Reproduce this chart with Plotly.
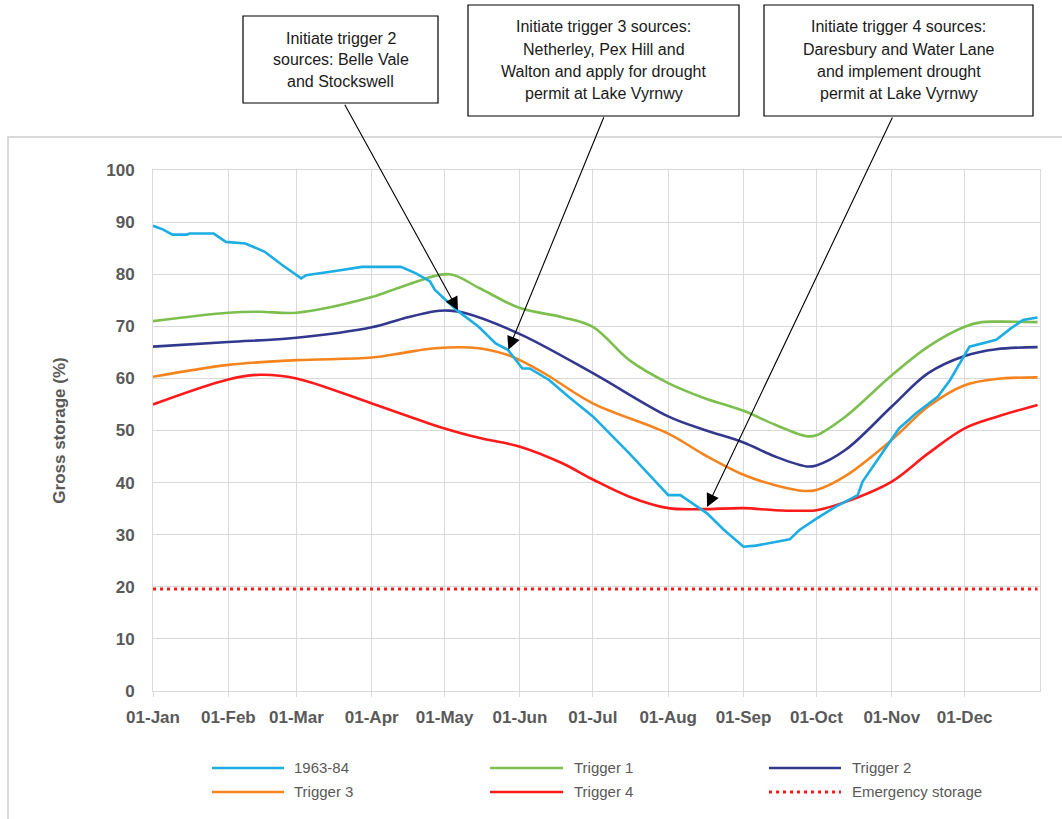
import plotly.graph_objects as go

YEAR = "2021"

# ---- data -------------------------------------------------------------
hist_days = ["01-01", "01-05", "01-09", "01-15", "01-16", "01-26", "01-31", "02-08",
             "02-16", "02-23", "03-03", "03-05", "03-17", "03-28", "04-13", "04-19",
             "04-25", "04-27", "05-06", "05-15", "05-22", "05-27", "06-02", "06-05",
             "06-13", "06-21", "07-01", "07-16", "07-30", "08-01", "08-06", "08-11",
             "08-17", "08-24", "09-01", "09-06", "09-20", "09-24", "10-01", "10-09",
             "10-18", "10-20", "10-27", "11-04", "11-11", "11-20", "11-25", "12-03",
             "12-14", "12-20", "12-25", "12-31"]
hist_values = [89.3, 88.6, 87.6, 87.6, 87.8, 87.8, 86.2, 85.9,
               84.3, 81.8, 79.2, 79.8, 80.6, 81.4, 81.4, 80.2,
               78.6, 77.0, 73.1, 69.9, 66.7, 65.5, 61.9, 61.9,
               59.7, 56.5, 52.7, 45.6, 38.6, 37.6, 37.6, 36.0,
               34.1, 30.9, 27.7, 27.9, 29.1, 30.9, 33.1, 35.4,
               37.6, 40.2, 45.0, 50.4, 53.3, 56.5, 59.7, 66.1,
               67.4, 69.6, 71.2, 71.7]

t1_days = ["01-01", "02-01", "02-14", "03-01", "04-01", "04-14", "05-03", "05-15",
           "06-01", "06-18", "07-01", "07-16", "08-01", "08-16", "09-01", "09-14",
           "09-27", "10-01", "10-13", "11-01", "11-16", "12-01", "12-08", "12-15", "12-31"]
t1_values = [71.0, 72.6, 72.8, 72.6, 75.6, 77.7, 80.0, 77.4,
             73.5, 71.8, 69.9, 63.5, 59.1, 56.2, 53.8, 51.1,
             48.9, 49.1, 52.7, 60.6, 66.1, 69.9, 70.8, 70.9, 70.8]

t2_days = ["01-01", "02-01", "03-01", "04-01", "04-14", "04-27", "05-03", "05-09",
           "06-01", "07-01", "08-01", "08-16", "09-01", "09-14", "09-27", "10-01",
           "10-13", "11-01", "11-16", "12-01", "12-14", "12-31"]
t2_values = [66.1, 67.0, 67.8, 69.8, 71.5, 72.9, 73.0, 72.6,
             68.5, 61.0, 52.7, 50.1, 47.7, 45.0, 43.1, 43.3,
             46.3, 54.6, 61.0, 64.3, 65.6, 66.0]

t3_days = ["01-01", "02-01", "03-01", "04-01", "04-14", "04-27", "05-15", "05-27",
           "06-01", "06-12", "07-01", "08-01", "08-16", "09-01", "09-14", "09-26",
           "10-01", "10-13", "11-01", "11-16", "12-01", "12-14", "12-31"]
t3_values = [60.3, 62.6, 63.5, 64.0, 64.9, 65.8, 65.8, 64.5,
             63.5, 60.7, 55.2, 49.4, 45.3, 41.5, 39.5, 38.4,
             38.6, 41.3, 48.2, 54.6, 58.7, 59.9, 60.2]

t4_days = ["01-01", "02-01", "02-14", "03-01", "04-01", "05-01", "05-16", "06-01",
           "06-18", "07-01", "07-16", "08-01", "08-15", "09-01", "09-14", "09-26",
           "10-01", "10-13", "11-01", "11-16", "12-01", "12-14", "12-31"]
t4_values = [55.0, 59.8, 60.7, 60.0, 55.2, 50.4, 48.5, 46.9,
             43.8, 40.6, 37.3, 35.1, 34.9, 35.1, 34.7, 34.6,
             34.7, 36.3, 40.2, 45.6, 50.4, 52.6, 54.9]

emergency_days = ["01-01", "12-31"]
emergency_values = [19.6, 19.6]

month_ticks = ["01-01", "02-01", "03-01", "04-01", "05-01", "06-01",
               "07-01", "08-01", "09-01", "10-01", "11-01", "12-01"]
tick_labels = ["01-Jan", "01-Feb", "01-Mar", "01-Apr", "01-May", "01-Jun",
               "01-Jul", "01-Aug", "01-Sep", "01-Oct", "01-Nov", "01-Dec"]

series_names = ["1963-84", "Trigger 1", "Trigger 2", "Trigger 3", "Trigger 4", "Emergency storage"]

callouts = [
    ["Initiate trigger 2", "sources: Belle Vale", "and Stockswell"],
    ["Initiate trigger 3 sources:", "Netherley, Pex Hill and",
     "Walton and apply for drought", "permit at Lake Vyrnwy"],
    ["Initiate trigger 4 sources:", "Daresbury and Water Lane",
     "and implement drought", "permit at Lake Vyrnwy"],
]
callout_targets = [("05-06 12:00", 73.1), ("05-27 06:00", 65.5), ("08-17 00:00", 35.3)]


def dates(days):
    return [f"{YEAR}-{d}" for d in days]


# ---- styling ----------------------------------------------------------
W, H = 1062, 819
L, R, T, B = 153, 22, 170, 128
PW, PH = W - L - R, H - T - B

BLUE = "#1CADE4"
GREEN = "#7CBF4F"
NAVY = "#33388F"
ORANGE = "#F5841F"
RED = "#FF1A1A"
GRID = "#D9D9D9"
TXT = "#595959"
FONT = "Liberation Sans, Arial, sans-serif"
EMERG_DASH = "3px,4px"


def fx(px):
    return (px - L) / PW


def fy(py):
    return (H - B - py) / PH


fig = go.Figure()

styles = [
    (hist_days, hist_values, BLUE, "linear", None),
    (t1_days, t1_values, GREEN, "spline", None),
    (t2_days, t2_values, NAVY, "spline", None),
    (t3_days, t3_values, ORANGE, "spline", None),
    (t4_days, t4_values, RED, "spline", None),
    (emergency_days, emergency_values, RED, "linear", EMERG_DASH),
]
# draw order: triggers underneath, history on top, emergency line
order = [5, 1, 2, 3, 4, 0]
for i in order:
    days, vals, col, shape, dash = styles[i]
    line = dict(color=col, width=3 if dash else 2.6, shape=shape)
    if shape == "spline":
        line["smoothing"] = 1.0
    if dash:
        line["dash"] = dash
    fig.add_trace(go.Scatter(x=dates(days), y=vals, mode="lines", name=series_names[i],
                             line=line, showlegend=False, hoverinfo="x+y+name"))

shapes = []
annotations = []

# outer chart frame (only top and left edges fall inside the page)
shapes.append(dict(type="rect", xref="paper", yref="paper",
                   x0=fx(8), x1=fx(1075), y0=fy(830), y1=fy(137),
                   line=dict(color=GRID, width=2), layer="below"))

# call-out boxes with arrows
box_px = [(243, 438, 16, 103), (468, 739, 5, 116), (764, 1033, 5, 116)]
line_ys = [[38, 60, 82], [27, 49, 71, 94], [27, 49, 71, 94]]
tails = [(344, 103), (604, 116), (893, 116)]
tip_px = [(458, 310), (508, 350), (707, 507)]
for k, lines in enumerate(callouts):
    x0, x1, y0, y1 = box_px[k]
    shapes.append(dict(type="rect", xref="paper", yref="paper",
                       x0=fx(x0), x1=fx(x1), y0=fy(y1), y1=fy(y0),
                       line=dict(color="#000000", width=1.2), fillcolor="white"))
    cx = (x0 + x1) / 2
    for text, ly in zip(lines, line_ys[k]):
        annotations.append(dict(xref="paper", yref="paper", x=fx(cx), y=fy(ly),
                                text=text, showarrow=False, xanchor="center",
                                yanchor="middle",
                                font=dict(family=FONT, size=16, color="#1a1a1a")))
    tday, tval = callout_targets[k]
    tx, ty = tails[k]
    px_, py_ = tip_px[k]
    annotations.append(dict(x=f"{YEAR}-{tday}", y=tval, xref="x", yref="y",
                            text="", showarrow=True, arrowhead=2, arrowsize=2.4,
                            arrowwidth=1.1, arrowcolor="#000000", standoff=0,
                            ax=tx - px_, ay=ty - py_))

# legend: two rows of three entries
leg_rows = [768, 792]
leg_cols = [(212, 284, 292), (490, 563, 572), (769, 841, 850)]
leg_styles = [(BLUE, None), (GREEN, None), (NAVY, None),
              (ORANGE, None), (RED, None), (RED, EMERG_DASH)]
for idx, name in enumerate(series_names):
    r, c = divmod(idx, 3)
    lx0, lx1, tx = leg_cols[c]
    ly = leg_rows[r]
    col, dash = leg_styles[idx]
    ln = dict(color=col, width=3 if dash else 2.6)
    if dash:
        ln["dash"] = dash
    shapes.append(dict(type="line", xref="paper", yref="paper",
                       x0=fx(lx0), x1=fx(lx1), y0=fy(ly), y1=fy(ly), line=ln))
    annotations.append(dict(xref="paper", yref="paper", x=fx(tx), y=fy(ly - 1),
                            text=name, showarrow=False, xanchor="left",
                            yanchor="middle",
                            font=dict(family=FONT, size=15, color=TXT)))

fig.update_layout(
    width=W, height=H, autosize=False,
    margin=dict(l=L, r=R, t=T, b=B),
    paper_bgcolor="white", plot_bgcolor="white",
    showlegend=False,
    font=dict(family=FONT, color=TXT),
    shapes=shapes, annotations=annotations,
)

fig.update_xaxes(
    type="date", range=[f"{YEAR}-01-01", f"{YEAR}-12-31 23:59"],
    tickvals=dates(month_ticks), ticktext=tick_labels,
    showgrid=True, gridcolor=GRID, gridwidth=1,
    showline=True, linecolor=GRID, linewidth=1, mirror=True,
    ticks="outside", ticklen=5, tickcolor=GRID,
    tickfont=dict(family=FONT, size=17, color=TXT, weight="bold"),
    ticklabelstandoff=6, zeroline=False,
)
fig.update_yaxes(
    range=[0, 100], dtick=10, tick0=0,
    showgrid=True, gridcolor=GRID, gridwidth=1,
    showline=True, linecolor=GRID, linewidth=1, mirror=True,
    ticks="", tickfont=dict(family=FONT, size=17, color=TXT, weight="bold"),
    ticklabelstandoff=14, zeroline=False,
    title=dict(text="Gross storage (%)", standoff=36,
               font=dict(family=FONT, size=17, color=TXT, weight="bold")),
)

fig.write_html("out.html")
